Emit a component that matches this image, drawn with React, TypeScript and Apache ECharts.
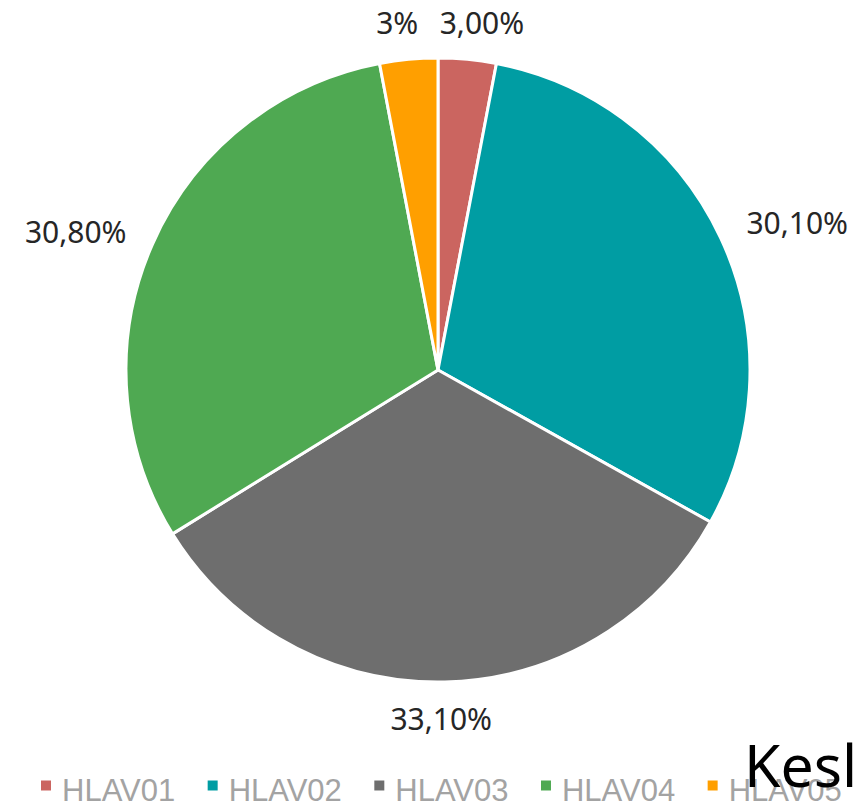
import React, { useEffect, useRef } from "react";
import * as echarts from "echarts";

const categories = ["HLAV01", "HLAV02", "HLAV03", "HLAV04", "HLAV05"];
const values = [3.0, 30.1, 33.1, 30.8, 3.0];
const labelTexts = ["3,00%", "30,10%", "33,10%", "30,80%", "3%"];
const colors = ["#CB6560", "#009DA3", "#6E6E6E", "#4FA952", "#FF9F00"];
// label nudges relative to ECharts' default outside placement
const labelNudges: [number, number][] = [
  [-35, -12],
  [-2, -5],
  [-60, 12],
  [2, -3],
  [17, -12],
];

export default function App() {
  const ref = useRef<HTMLDivElement>(null);
  useEffect(() => {
    if (!ref.current) return;
    const chart = echarts.init(ref.current, undefined, { renderer: "svg" });
    chart.setOption({
      animation: false,
      backgroundColor: "#ffffff",
      color: colors,
      legend: {
        data: categories,
        left: 34,
        top: 770,
        itemWidth: 12,
        itemHeight: 22,
        itemGap: 30.5,
        icon: "path://M0,0H12V12H0Z M0,22L0.01,22",
        textStyle: {
          fontFamily: "Liberation Sans, Arial, sans-serif",
          fontSize: 31,
          color: "#a3a3a3",
          padding: [0, 0, 0, 5],
        },
      },
      series: [
        {
          type: "pie",
          center: [438, 370],
          radius: 312,
          startAngle: 90,
          clockwise: true,
          avoidLabelOverlap: false,
          itemStyle: { borderColor: "#ffffff", borderWidth: 3 },
          label: {
            show: true,
            position: "outside",
            fontFamily: "Noto Sans, sans-serif",
            fontSize: 30,
            color: "#262626",
            formatter: (p: any) => labelTexts[p.dataIndex],
          },
          labelLine: { show: false, length: 25, length2: 0 },
          labelLayout: (p: any) => ({
            dx: labelNudges[p.dataIndex][0],
            dy: labelNudges[p.dataIndex][1],
          }),
          emphasis: { disabled: true },
          data: categories.map((c, i) => ({ name: c, value: values[i] })),
        },
      ],
      graphic: [
        {
          type: "text",
          left: 744,
          top: 734,
          z: 100,
          style: {
            text: "Kesl",
            fontFamily: "Noto Sans, sans-serif",
            fontSize: 59,
            fill: "#000000",
          },
        },
      ],
    });
    return () => chart.dispose();
  }, []);
  return <div ref={ref} style={{ width: 856, height: 802, position: "absolute", left: 0, top: 0 }} />;
}
